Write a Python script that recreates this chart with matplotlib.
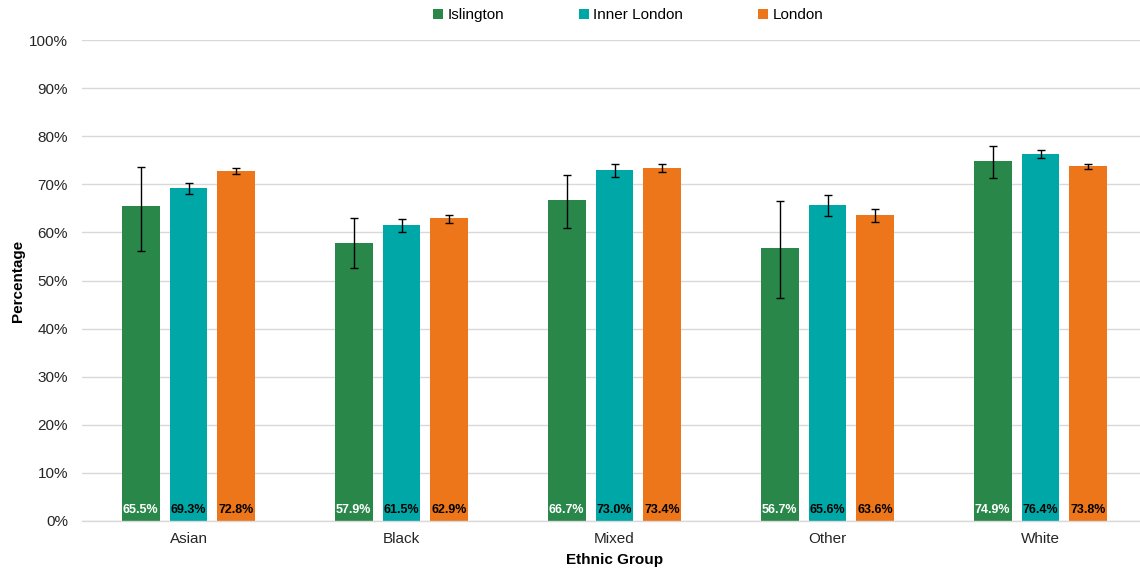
import matplotlib
matplotlib.use("Agg")
import matplotlib.pyplot as plt
import numpy as np

categories = ["Asian", "Black", "Mixed", "Other", "White"]
series = ["Islington", "Inner London", "London"]
islington = [65.5, 57.9, 66.7, 56.7, 74.9]
inner_london = [69.3, 61.5, 73.0, 65.6, 76.4]
london = [72.8, 62.9, 73.4, 63.6, 73.8]
islington_lo = [56.1, 52.6, 60.9, 46.3, 71.4]
islington_hi = [73.7, 62.9, 72.0, 66.5, 78.0]
inner_lo = [68.0, 60.1, 71.6, 63.4, 75.5]
inner_hi = [70.3, 62.8, 74.3, 67.8, 77.2]
london_lo = [72.1, 62.0, 72.6, 62.2, 73.2]
london_hi = [73.4, 63.7, 74.2, 64.9, 74.3]

colors = ["#2A874A", "#00A7A7", "#EE761A"]
label_colors = ["white", "black", "black"]

plt.rcParams['font.family'] = ['Liberation Sans', 'DejaVu Sans']

fig = plt.figure(figsize=(11.4, 5.7), dpi=100)
ax = fig.add_axes([82/1140, 49/570, 1065/1140, 481/570])

x = np.arange(len(categories))
step = 0.225
width = 0.178
vals = [islington, inner_london, london]
los = [islington_lo, inner_lo, london_lo]
his = [islington_hi, inner_hi, london_hi]
for i, (name, v, lo, hi) in enumerate(zip(series, vals, los, his)):
    pos = x + (i - 1) * step
    v = np.array(v); lo = np.array(lo); hi = np.array(hi)
    ax.bar(pos, v, width, color=colors[i], label=name, zorder=2)
    ax.errorbar(pos, v, yerr=[v - lo, hi - v], fmt='none', ecolor='black',
                elinewidth=1, capsize=3, capthick=1, zorder=3)
    for p, val in zip(pos, v):
        ax.text(p, 2.2, f"{val:.1f}%", ha='center', va='center', fontsize=9,
                fontweight='bold', color=label_colors[i], zorder=4)

ax.set_xlim(-0.5, len(categories) - 0.5)
ax.set_ylim(0, 100)
ax.set_yticks(np.arange(0, 101, 10))
ax.set_yticklabels([f"{t}%" for t in range(0, 101, 10)], fontsize=11, color='#262626')
ax.set_xticks(x)
ax.set_xticklabels(categories, fontsize=11, color='#262626')
ax.tick_params(axis='both', length=0)
ax.tick_params(axis='y', pad=10)
ax.tick_params(axis='x', pad=8)
ax.grid(axis='y', color='#D9D9D9', linewidth=1, zorder=0)
ax.set_axisbelow(True)
for s in ['top', 'right', 'left']:
    ax.spines[s].set_visible(False)
ax.spines['bottom'].set_color('#D9D9D9')
ax.spines['bottom'].set_linewidth(1)

ax.set_xlabel("Ethnic Group", fontsize=11, fontweight='bold', labelpad=5)
ax.set_ylabel("Percentage", fontsize=11, fontweight='bold', labelpad=3)

fig.legend(loc='center', bbox_to_anchor=(628/1140, 1 - 15/570), ncol=3, frameon=False,
           fontsize=11, handlelength=0.65, handleheight=0.65, handletextpad=0.3,
           columnspacing=4.9)

fig.savefig("out.png", dpi=100)
